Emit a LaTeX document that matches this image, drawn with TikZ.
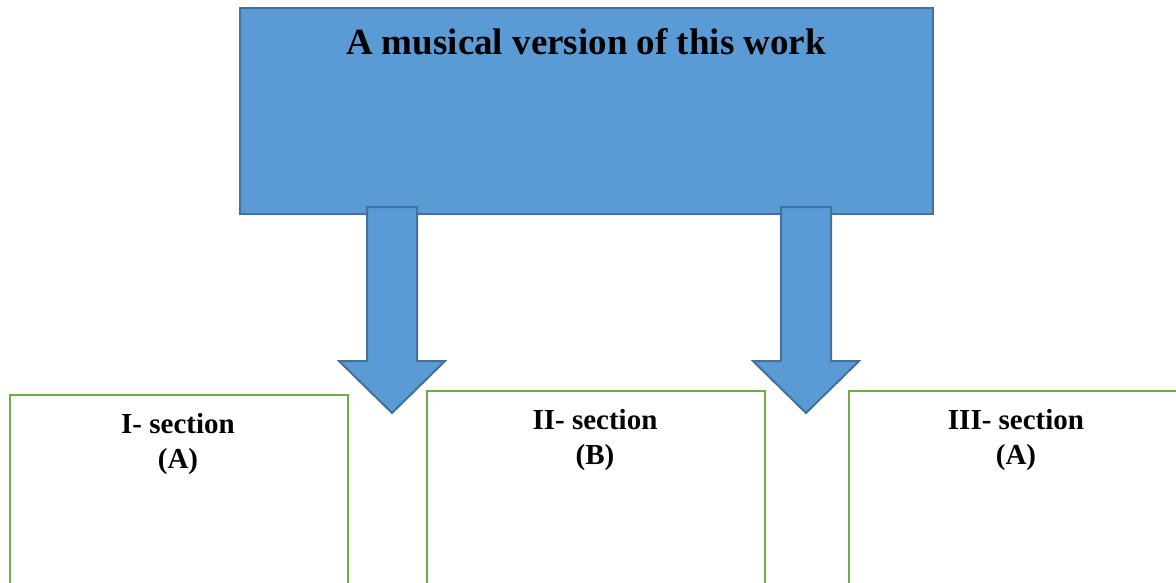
\documentclass[tikz,border=0pt]{standalone}
\usepackage{fontspec}
\setmainfont{Liberation Serif}
\definecolor{boxblue}{HTML}{5B9BD5}
\definecolor{edgeblue}{HTML}{41719C}
\definecolor{boxgreen}{HTML}{70AD47}
\tikzset{
  mainbox/.style={draw=edgeblue, fill=boxblue, line width=2pt, rectangle, inner sep=0pt},
  secbox/.style={draw=boxgreen, line width=2.2pt, rectangle, inner sep=0pt},
  blockarrow/.style={draw=edgeblue, fill=boxblue, line width=2pt, line join=miter},
  titletext/.style={font=\bfseries\fontsize{37}{40}\selectfont, anchor=base, inner sep=0pt},
  sectext/.style={font=\bfseries\fontsize{29}{35}\selectfont, anchor=base, inner sep=0pt, align=center}
}
\begin{document}
\begin{tikzpicture}[x=1pt,y=-1pt]
\useasboundingbox (0,0) rectangle (1176,582);
\clip (0,0) rectangle (1176,582);
% main box
\node[mainbox, minimum width=693pt, minimum height=206pt, anchor=north west] (main) at (239,7) {};
\node[titletext] (title) at (586,54) {A musical version of this work};
% section boxes (extend below the page)
\node[secbox, minimum width=338pt, minimum height=230pt, anchor=north west] (s1) at (9,394) {};
\node[secbox, minimum width=338pt, minimum height=230pt, anchor=north west] (s2) at (426,390) {};
\node[secbox, minimum width=336pt, minimum height=230pt, anchor=north west] (s3) at (848,390) {};
\node[sectext] (t1) at (178,468) {I- section\\(A)};
\node[sectext] (t2) at (595,464) {II- section\\(B)};
\node[sectext] (t3) at (1016,464) {III- section\\(A)};
% block arrows
\coordinate (a1) at (392,207);
\coordinate (a2) at (806,207);
\draw[blockarrow] (a1) ++(-25,0) -- ++(50,0) -- ++(0,154) -- ++(28,0) -- ++(-53,52) -- ++(-53,-52) -- ++(28,0) -- cycle;
\draw[blockarrow] (a2) ++(-25,0) -- ++(50,0) -- ++(0,154) -- ++(28,0) -- ++(-53,52) -- ++(-53,-52) -- ++(28,0) -- cycle;
\end{tikzpicture}
\end{document}
